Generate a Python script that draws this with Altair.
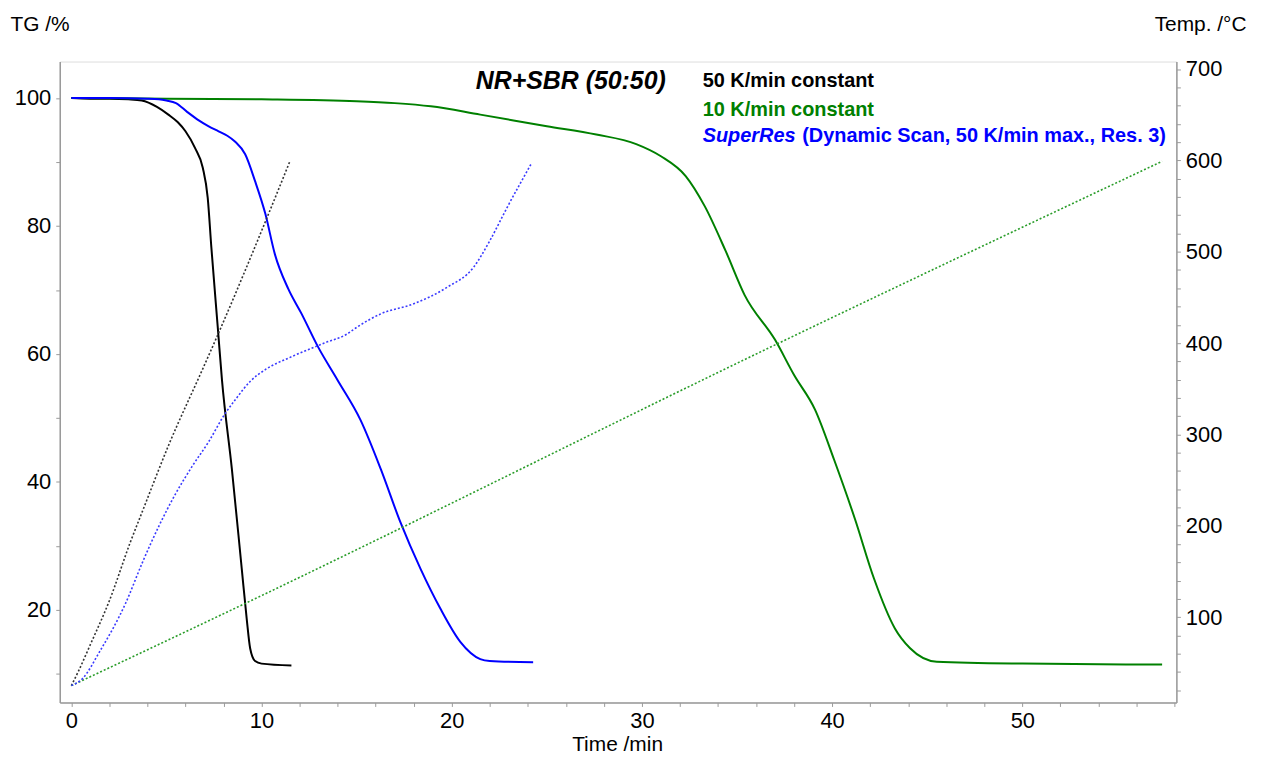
import altair as alt
import pandas as pd

FONT = "Liberation Sans"

# ---------------- TG curves (time /min, TG /%) ----------------
series_names = ["50 K/min constant", "10 K/min constant", "SuperRes"]

t_tg_50 = [0, 1, 2, 3, 3.7, 4.5, 5.1, 5.6, 6.0, 6.5, 6.91, 7.17, 7.36, 7.71, 7.92, 8.44, 8.96, 9.22, 9.4, 9.66, 10.0, 11.57]
tg_50 = [100, 99.9, 99.9, 99.8, 99.6, 98.6, 97.4, 96.2, 94.8, 92.2, 89.1, 84.4, 76.7, 63.7, 55.9, 42.0, 26.4, 18.6, 14.0, 12.0, 11.6, 11.3]

t_tg_10 = [0, 5, 10, 15, 17, 18.9, 21.5, 25, 27.6, 29.7, 31, 32.3, 33.3, 34.4, 35.4, 37, 38.0, 39.1, 40.1, 41.2, 42.2, 43.3, 44.1, 45.5, 50, 57.35]
tg_10 = [100, 99.9, 99.8, 99.5, 99.2, 98.7, 97.4, 95.6, 94.3, 92.8, 90.9, 87.8, 83.1, 76.1, 69.2, 62.2, 56.7, 51.3, 43.5, 34.2, 24.9, 17.1, 14.0, 11.9, 11.6, 11.45]

t_tg_sr = [0, 2, 4, 4.6, 5.0, 5.5, 6.1, 6.7, 7.2, 7.74, 8.2, 8.6, 9.14, 9.66, 10.2, 10.7, 11.4, 12.1, 12.97, 14.0, 15.2, 16.27, 17.3, 18.36, 19.4, 20.45, 21.5, 22.0, 24.28]
tg_sr = [100, 100, 99.9, 99.8, 99.6, 99.2, 97.8, 96.5, 95.6, 94.8, 94.1, 93.2, 91.2, 87.0, 81.9, 75.6, 70.2, 66.3, 61.1, 55.9, 49.7, 42.0, 33.7, 26.4, 20.2, 15.0, 12.3, 12.0, 11.8]

# ---------------- Temperature curves (time /min, Temp /°C) ----------------
t_temp_50 = [0, 0.4, 1, 2, 3.1, 3.74, 5.13, 6.87, 7.74, 10.36, 11.49]
temp_50 = [25, 42, 70, 118, 182, 216, 289, 370, 411, 541, 599]

t_temp_10 = [0, 9.14, 37, 57.35]
temp_10 = [25, 115, 398, 599]

t_temp_sr = [0, 0.6, 1.48, 2.87, 3.74, 4.61, 5.48, 6.35, 7.22, 8.09, 8.62, 9.4, 10.2, 11.57, 13.3, 14.5, 15.06, 16.27, 18.0, 19.75, 21.15, 22.0, 22.9, 24.2]
temp_sr = [25, 33, 62, 116, 160, 200, 235, 265, 292, 323, 338, 358, 371, 385, 400, 410, 418, 432, 443, 461, 483, 512, 548, 597]

# ---------------- texts ----------------
chart_title = "NR+SBR (50:50)"
legend_texts = ["50 K/min constant", "10 K/min constant"]
sr_italic = "SuperRes"
sr_rest = "(Dynamic Scan, 50 K/min max., Res. 3)"

tg_colors = ["#000000", "#008000", "#0000ff"]
temp_colors = ["#333333", "#2a9d2a", "#3a3aff"]

tg_df = pd.concat([
    pd.DataFrame({"t": t_tg_50, "tg": tg_50, "series": series_names[0]}),
    pd.DataFrame({"t": t_tg_10, "tg": tg_10, "series": series_names[1]}),
    pd.DataFrame({"t": t_tg_sr, "tg": tg_sr, "series": series_names[2]}),
])
temp_df = pd.concat([
    pd.DataFrame({"t": t_temp_50, "temp": temp_50, "series": series_names[0]}),
    pd.DataFrame({"t": t_temp_10, "temp": temp_10, "series": series_names[1]}),
    pd.DataFrame({"t": t_temp_sr, "temp": temp_sr, "series": series_names[2]}),
])

AX_COLOR = "#9a9a9a"
common_axis = dict(
    grid=False, domainColor=AX_COLOR, domainWidth=1.5, tickColor=AX_COLOR, tickSize=4,
    labelFont=FONT, labelFontSize=22, labelColor="black", labelOverlap=False, labelFlush=False,
    titleFont=FONT, titleFontSize=21, titleFontWeight="normal", titleColor="black",
)

x_scale = alt.Scale(domain=[-0.61, 58.1], nice=False, zero=False)
x_axis = alt.Axis(
    values=list(range(0, 59, 2)),
    labelExpr="datum.value % 10 === 0 ? datum.label : ''",
    title="Time /min", titleX=560, titleY=42, titleBaseline="middle",
    labelPadding=4, **common_axis,
)
x_enc = alt.X("t:Q", scale=x_scale, axis=x_axis)

tg_chart = alt.Chart(tg_df).mark_line(strokeWidth=2, interpolate="monotone").encode(
    x=x_enc,
    y=alt.Y(
        "tg:Q",
        scale=alt.Scale(domain=[5.53, 105.7], nice=False, zero=False),
        axis=alt.Axis(
            orient="left", values=list(range(10, 101, 10)),
            labelExpr="datum.value % 20 === 0 ? datum.label : ''",
            title="TG /%", titleAngle=0, titleX=-50, titleY=-37, titleAlign="left",
            titleBaseline="middle", labelPadding=5, **common_axis,
        ),
    ),
    color=alt.Color("series:N", scale=alt.Scale(domain=series_names, range=tg_colors), legend=None),
)

temp_chart = alt.Chart(temp_df).mark_line(strokeWidth=1.6, strokeDash=[2, 2], interpolate="monotone").encode(
    x=x_enc,
    y=alt.Y(
        "temp:Q",
        scale=alt.Scale(domain=[6.6, 708.2], nice=False, zero=False),
        axis=alt.Axis(
            orient="right", values=list(range(20, 701, 20)),
            labelExpr="datum.value % 100 === 0 ? datum.label : ''",
            title="Temp. /°C", titleAngle=0, titleX=70, titleY=-37, titleAlign="right",
            titleBaseline="middle", labelPadding=5, **common_axis,
        ),
    ),
    color=alt.Color("series:N", scale=alt.Scale(domain=series_names, range=temp_colors), legend=None),
)


def txt(s, x, y, color, size, style="normal"):
    return alt.Chart(pd.DataFrame({"label": [s]})).mark_text(
        align="left", baseline="middle", font=FONT, fontSize=size, fontWeight="bold",
        fontStyle=style, color=color,
    ).encode(x=alt.value(x), y=alt.value(y), text="label:N")


texts = [
    txt(chart_title, 418, 20, "black", 25, "italic"),
    txt(legend_texts[0], 646, 20, "black", 20),
    txt(legend_texts[1], 646, 49, "#008000", 20),
    txt(sr_italic, 646, 75, "#0000ff", 20, "italic"),
    txt(sr_rest, 746, 75, "#0000ff", 20),
]

chart = alt.layer(tg_chart, temp_chart, *texts).resolve_scale(
    y="independent", color="independent"
).properties(
    width=1122, height=644,
    autosize=alt.AutoSizeParams(type="none"),
    padding={"left": 52, "top": 52, "right": 80, "bottom": 50},
).configure_view(stroke=None).configure(background="white")

chart.save("out.html", embed_options={"renderer": "svg", "actions": False})
